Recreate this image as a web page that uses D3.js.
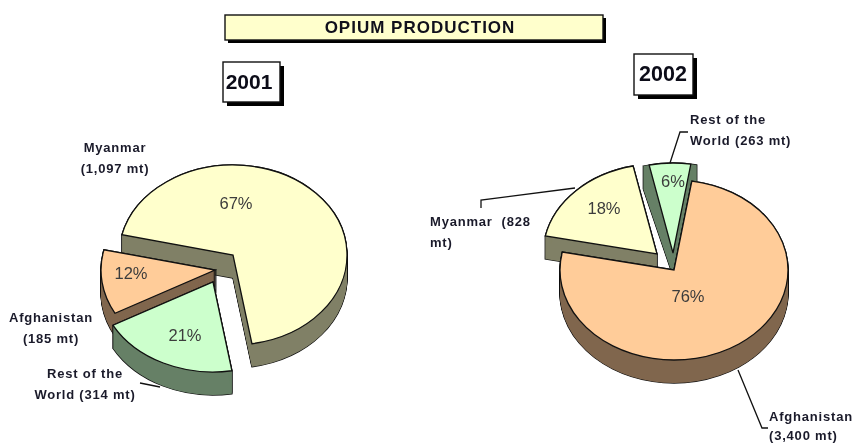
<!DOCTYPE html>
<html>
<head>
<meta charset="utf-8">
<script src="https://cdn.jsdelivr.net/npm/d3@7"></script>
<style>
  html, body { margin: 0; background: #fff; }
  svg { display: block; filter: blur(.45px); }
  text { font-family: "Liberation Sans", Arial, sans-serif; }
  .label { font-size: 13px; font-weight: bold; fill: #1a1a2a; letter-spacing: .8px; }
  .pct { font-size: 16.5px; fill: #3c3c3c; text-anchor: middle; }
</style>
</head>
<body>
<svg width="858" height="443"></svg>
<script>
// data: wedges are sized by tonnes, the printed percents are the chart's own
var cats2001 = ["Myanmar", "Rest of the World", "Afghanistan"];
var tonnes2001 = [1097, 314, 185];
var pct2001 = [67, 21, 12];
var cats2002 = ["Afghanistan", "Myanmar", "Rest of the World"];
var tonnes2002 = [3400, 828, 263];
var pct2002 = [76, 18, 6];

var title = "OPIUM PRODUCTION";
var years = ["2001", "2002"];

var faceColor = d3.scaleOrdinal()
    .domain(["Myanmar", "Afghanistan", "Rest of the World"])
    .range(["#ffffcc", "#ffcc99", "#ccffcc"]);
var sideColor = d3.scaleOrdinal()
    .domain(["Myanmar", "Afghanistan", "Rest of the World"])
    .range(["#808066", "#80664d", "#668066"]);

var svg = d3.select("svg");
var rx = 114, ry = 90, depth = 23;
var deg = Math.PI / 180;

// layout of each pie: where every slice's point sits after being pulled out
var pie2001 = {
    cats: cats2001, vals: tonnes2001, pct: pct2001, start: -77,
    apex: {"Myanmar": [233, 255], "Rest of the World": [213, 282], "Afghanistan": [215, 270]},
    order: ["Myanmar", "Afghanistan", "Rest of the World"],
    pctPos: {"Myanmar": [236, 203], "Rest of the World": [185, 335], "Afghanistan": [131, 273]},
    wallPad: {}
};
var pie2002 = {
    cats: cats2002, vals: tonnes2002, pct: pct2002, start: 9,
    apex: {"Afghanistan": [674, 270], "Myanmar": [657, 254], "Rest of the World": [673, 253]},
    order: ["Rest of the World", "Myanmar", "Afghanistan"],
    pctPos: {"Afghanistan": [688, 296], "Myanmar": [604, 208], "Rest of the World": [673, 181]},
    wallPad: {"Rest of the World": 3} // dark rim shows on both sides of this thin wedge
};

drawBox(225, 15, 378, 25, "#ffffcc", 3);
svg.append("text").text(title)
    .attr("x", 420).attr("y", 33)
    .attr("text-anchor", "middle")
    .style("font-size", "17px").style("font-weight", "bold").style("fill", "#10101c")
    .style("letter-spacing", "1px");

drawBox(223, 62, 57, 40, "#fff", 4);
drawBox(634, 54, 59, 41, "#fff", 4);
svg.append("text").text(years[0]).attr("x", 249).attr("y", 89)
    .attr("text-anchor", "middle")
    .style("font-size", "21px").style("font-weight", "bold").style("fill", "#0c0c18");
svg.append("text").text(years[1]).attr("x", 663).attr("y", 81)
    .attr("text-anchor", "middle")
    .style("font-size", "21.5px").style("font-weight", "bold").style("fill", "#0c0c18");

drawPie(pie2001);
drawPie(pie2002);

// leader lines
var leaders = [
    [[140, 383], [160, 387]],
    [[481, 208], [481, 200], [575, 188]],
    [[670, 163], [680, 132], [688, 132]],
    [[738, 370], [762, 428], [768, 428]]
];
svg.selectAll(".leader").data(leaders).enter().append("path")
    .attr("class", "leader")
    .attr("d", d3.line())
    .attr("fill", "none").attr("stroke", "#111").attr("stroke-width", 1.3);

// labels
addLabel(["Myanmar", "(1,097 mt)"], 115, 152, "middle");
addLabel(["Afghanistan", "(185 mt)"], 51, 322, "middle");
addLabel(["Rest of the", "World (314 mt)"], 85, 378, "middle");
addLabel(["Myanmar  (828", "mt)"], 430, 226, "start");
addLabel(["Rest of the", "World (263 mt)"], 690, 124, "start");
addLabel(["Afghanistan", "(3,400 mt)"], 769, 421, "start", 19);

function drawBox(x, y, w, h, fill, shadow) {
    svg.append("rect").attr("x", x + shadow).attr("y", y + shadow)
        .attr("width", w).attr("height", h).attr("fill", "#000");
    svg.append("rect").attr("x", x).attr("y", y)
        .attr("width", w).attr("height", h)
        .attr("fill", fill).attr("stroke", "#111").attr("stroke-width", 1.4);
}

function drawPie(p) {
    var pie = d3.pie().sort(null)
        .startAngle(p.start * deg)
        .endAngle((p.start + 360) * deg);
    var arc = d3.arc().innerRadius(0).outerRadius(rx);
    var slices = pie(p.vals);
    var byCat = {};
    slices.forEach(function(s, i) { byCat[p.cats[i]] = s; });

    p.order.forEach(function(cat) {
        var s = byCat[cat];
        var a = p.apex[cat];
        var d = arc(s);
        var pad = (p.wallPad[cat] || 0) * deg;
        var wallD = arc({startAngle: s.startAngle - pad, endAngle: s.endAngle + pad});
        var g = svg.append("g");

        // wall: the same wedge stacked downwards, outline first and fill over it
        var steps = d3.range(depth + 1);
        g.selectAll(".edge").data(steps).enter().append("path")
            .attr("d", wallD)
            .attr("transform", function(k) { return place(a, k); })
            .attr("fill", "#111").attr("stroke", "#111").attr("stroke-width", 1.3)
            .attr("vector-effect", "non-scaling-stroke");
        g.selectAll(".wall").data(steps).enter().append("path")
            .attr("d", wallD)
            .attr("transform", function(k) { return place(a, k); })
            .attr("fill", sideColor(cat));

        g.append("path")
            .attr("d", d)
            .attr("transform", place(a, 0))
            .attr("fill", faceColor(cat))
            .attr("stroke", "#111").attr("stroke-width", 1.3)
            .attr("vector-effect", "non-scaling-stroke");
    });

    // percent labels go on top of everything
    p.cats.forEach(function(cat, i) {
        svg.append("text").attr("class", "pct")
            .text(p.pct[i] + "%")
            .attr("x", p.pctPos[cat][0])
            .attr("y", p.pctPos[cat][1] + 6);
    });
}

function place(a, k) {
    return "translate(" + a[0] + "," + (a[1] + k) + ") scale(1," + (ry / rx) + ")";
}

function addLabel(lines, x, y, anchor, lead) {
    lines.forEach(function(t, i) {
        svg.append("text").attr("class", "label")
            .text(t)
            .attr("x", x).attr("y", y + i * (lead || 21))
            .attr("text-anchor", anchor)
            .style("white-space", "pre");
    });
}
</script>
</body>
</html>
